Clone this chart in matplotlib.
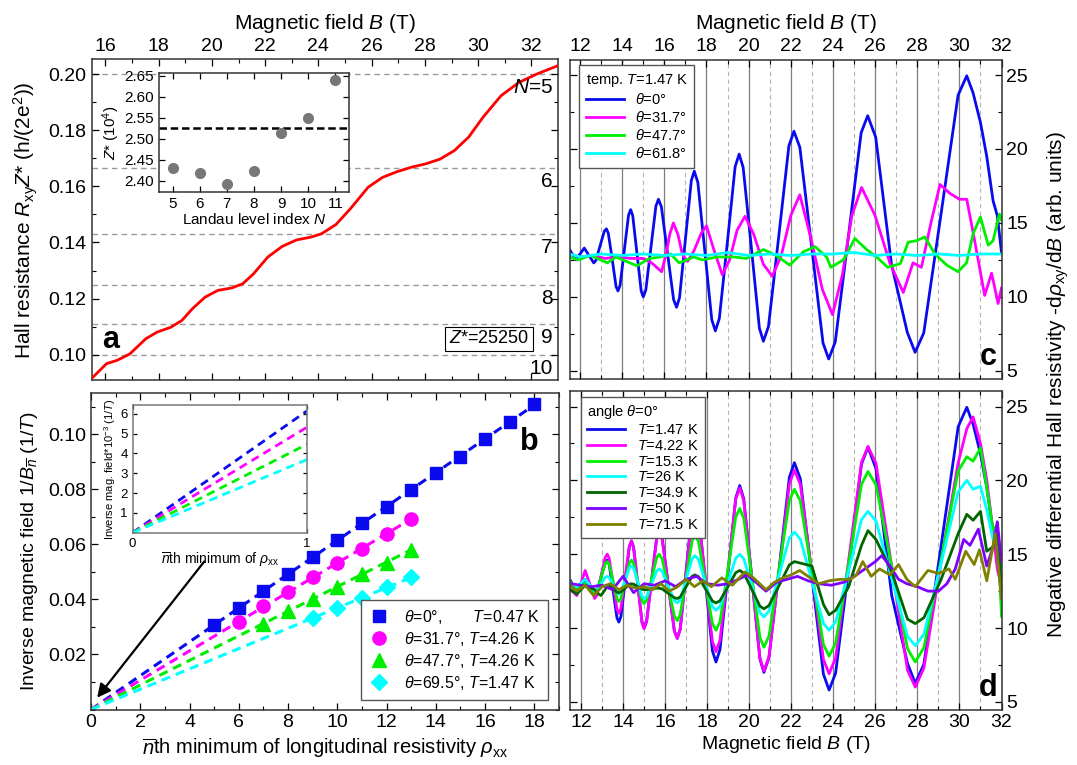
import numpy as np
import matplotlib
matplotlib.use('Agg')
import matplotlib.pyplot as plt
from matplotlib.ticker import MultipleLocator, FixedLocator

plt.rcParams['font.family'] = ['Liberation Sans', 'DejaVu Sans']
plt.rcParams['mathtext.fontset'] = 'custom'
plt.rcParams['mathtext.rm'] = 'Liberation Sans'
plt.rcParams['mathtext.it'] = 'Liberation Sans:italic'
plt.rcParams['mathtext.bf'] = 'Liberation Sans:bold'
plt.rcParams['font.size'] = 12

# ---------------- panel a: Hall resistance ----------------
B_hall = [15.47, 16.04, 16.44, 16.92, 17.52, 17.93, 18.46, 18.87, 19.27, 19.74,
          20.22, 20.75, 21.16, 21.56, 22.1, 22.64, 23.18, 23.72, 24.12, 24.66,
          25.2, 25.87, 26.41, 26.95, 27.49, 28.03, 28.57, 29.1, 29.64, 30.18,
          30.86, 31.53, 32.2, 33.0]
R_hall = [0.0914, 0.0968, 0.098, 0.1003, 0.1057, 0.108, 0.1098, 0.1122, 0.1164, 0.1205,
          0.1229, 0.1238, 0.1253, 0.1288, 0.1348, 0.1386, 0.1409, 0.1419, 0.1431, 0.1464,
          0.152, 0.1597, 0.1632, 0.1652, 0.1668, 0.168, 0.1697, 0.1727, 0.1775, 0.1846,
          0.1923, 0.197, 0.2, 0.203]
N_levels = [5, 6, 7, 8, 9, 10]
Z_star = 25250

# inset a
N_ll = [5, 6, 7, 8, 9, 10, 11]
Z_ll = [2.4295, 2.419, 2.392, 2.423, 2.514, 2.5486, 2.64]

# ---------------- panel b: inverse field vs minimum index ----------------
n_sq = [5, 6, 7, 8, 9, 10, 11, 12, 13, 14, 15, 16, 17, 18]
y_sq = [0.0309, 0.037, 0.0432, 0.0493, 0.0553, 0.0615, 0.0677, 0.0737, 0.0798, 0.086,
        0.0919, 0.0984, 0.1045, 0.1109]
n_ci = [6, 7, 8, 9, 10, 11, 12, 13]
y_ci = [0.0318, 0.0375, 0.0428, 0.048, 0.0533, 0.0584, 0.0639, 0.0692]
n_tr = [7, 8, 9, 10, 11, 12, 13]
y_tr = [0.0312, 0.0359, 0.0403, 0.0447, 0.0492, 0.0534, 0.0579]
n_di = [9, 10, 11, 12, 13]
y_di = [0.0331, 0.0369, 0.0405, 0.0444, 0.0481]

# ---------------- panels c/d: -d rho_xy / dB ----------------
B_d = [11.5, 11.8, 12.2, 12.65,
       12.75, 12.95, 13.15, 13.25,
       13.34, 13.53, 13.71, 13.8,
       13.9, 14.1, 14.3, 14.4,
       14.5, 14.7, 14.9, 15.0,
       15.12, 15.36, 15.6, 15.72,
       15.86, 16.15, 16.44, 16.58,
       16.72, 17.0, 17.28, 17.42,
       17.59, 17.92, 18.25, 18.42,
       18.61, 18.99, 19.36, 19.55,
       19.74, 20.13, 20.51, 20.7,
       20.94, 21.43, 21.91, 22.15,
       22.43, 22.98, 23.53, 23.8,
       24.11, 24.73, 25.34, 25.65,
       26.03, 26.78, 27.53, 27.9,
       28.31, 29.13, 29.94, 30.35,
       30.65, 31.0, 31.3, 31.6, 31.8, 32.0]
d_147 = [13.2, 12.5, 13.3, 12.3,
         12.46, 13.45, 14.44, 14.6,
         14.31, 12.5, 10.69, 10.4,
         10.79, 13.15, 15.52, 15.9,
         15.49, 12.95, 10.41, 10.0,
         10.46, 13.3, 16.14, 16.6,
         16.09, 12.95, 9.81, 9.3,
         9.94, 13.9, 17.86, 18.5,
         17.74, 13.1, 8.46, 7.7,
         8.54, 13.68, 18.81, 19.65,
         18.76, 13.33, 7.89, 7.0,
         7.99, 14.1, 20.21, 21.2,
         20.12, 13.5, 6.88, 5.8,
         6.95, 14.03, 21.1, 22.25,
         20.8, 12.2, 7.6, 6.25,
         7.56, 15.6, 23.64, 24.95,
         23.8, 21.8, 19.5, 16.5, 15.5, 13.0]
d_422 = [12.6, 12.2, 13.9, 12.0,
         12.21, 13.5, 14.79, 15.0,
         14.72, 13.0, 11.28, 11.0,
         11.34, 13.45, 15.56, 15.9,
         15.48, 12.93, 10.38, 9.96,
         10.42, 13.23, 16.04, 16.5,
         16.0, 12.9, 9.8, 9.3,
         9.92, 13.75, 17.58, 18.2,
         17.51, 13.3, 9.09, 8.4,
         9.18, 13.95, 18.72, 19.5,
         18.63, 13.3, 7.97, 7.1,
         8.05, 13.9, 19.75, 20.7,
         19.73, 13.8, 7.87, 6.9,
         7.98, 14.6, 21.22, 22.3,
         21.16, 14.15, 7.14, 6.0,
         7.3, 14.5, 21.2, 23.5,
         24.3, 22.5, 20.0, 16.5, 14.0, 12.8]
d_153 = [13.1, 12.6, 13.0, 12.3,
         12.45, 13.4, 14.35, 14.5,
         14.31, 13.15, 11.99, 11.8,
         12.0, 13.2, 14.4, 14.6,
         14.39, 13.13, 11.86, 11.65,
         11.88, 13.33, 14.77, 15.0,
         14.69, 12.75, 10.82, 10.5,
         10.91, 13.4, 15.89, 16.3,
         15.85, 13.08, 10.3, 9.85,
         10.43, 13.98, 17.52, 18.1,
         17.44, 13.4, 9.36, 8.7,
         9.45, 14.05, 18.65, 19.4,
         18.61, 13.75, 8.89, 8.1,
         8.98, 14.35, 19.73, 20.6,
         19.7, 14.15, 8.6, 7.7,
         8.67, 14.65, 20.63, 21.6,
         21.3, 22.2, 19.5, 16.6, 17.0, 10.8]
d_26 = [13.0, 12.8, 13.3, 12.5,
        12.57, 13.0, 13.43, 13.5,
        13.42, 12.9, 12.38, 12.3,
        12.43, 13.25, 14.07, 14.2,
        14.05, 13.1, 12.15, 12.0,
        12.14, 13.0, 13.86, 14.0,
        13.84, 12.85, 11.86, 11.7,
        11.92, 13.3, 14.68, 14.9,
        14.64, 13.05, 11.46, 11.2,
        11.47, 13.1, 14.73, 15.0,
        14.7, 12.88, 11.05, 10.75,
        11.15, 13.63, 16.1, 16.5,
        16.03, 13.18, 10.32, 9.85,
        10.41, 13.88, 17.34, 17.9,
        17.26, 13.35, 9.44, 8.8,
        9.58, 14.4, 19.22, 20.0,
        19.4, 19.6, 18.0, 16.0, 15.5, 14.0]
d_349 = [12.6, 12.3, 12.9, 12.6,
         12.4, 12.2, 12.6, 12.9,
         12.88, 12.65, 12.42, 12.4,
         12.44, 12.7, 12.96, 13.0,
         12.97, 12.8, 12.63, 12.6,
         12.6, 12.65, 12.7, 12.7,
         12.65, 12.35, 12.05, 12.0,
         12.1, 12.8, 13.5, 13.6,
         13.47, 12.65, 11.83, 11.7,
         11.85, 12.8, 13.75, 13.9,
         13.72, 12.6, 11.48, 11.3,
         11.52, 12.9, 14.28, 14.5,
         14.4, 14.2, 11.6, 10.9,
         11.2, 12.8, 15.6, 16.6,
         16.0, 13.8, 10.6, 10.3,
         10.7, 13.3, 16.4, 17.7,
         17.3, 17.9, 15.2, 15.5, 16.7, 12.5]
B_50 = [11.5, 12.0, 12.5, 13.0, 13.5, 14.0, 14.5, 15.0, 15.5, 16.0,
        16.5, 17.0, 17.5, 18.0, 18.5, 19.0, 19.5, 19.9, 20.4, 20.8,
        21.3, 21.8, 22.3, 22.8, 23.3, 23.9, 24.5, 25.0, 25.5, 26.0,
        26.3, 26.7, 27.1, 27.5, 28.0, 28.5, 29.0, 29.4, 29.8, 30.2,
        30.5, 30.9, 31.3, 31.6, 31.8, 32.0]
d_50 = [13.0, 12.9, 12.8, 12.9, 12.6, 13.5, 12.4, 13.0, 12.9, 13.2,
        12.8, 13.3, 13.5, 13.0, 12.9, 13.0, 13.3, 13.6, 13.0, 12.5,
        13.1, 13.3, 13.5, 13.2, 13.0, 12.9, 13.1, 13.5, 14.0, 14.5,
        14.9, 14.2, 13.3, 13.0, 12.8, 12.5, 12.5, 13.0, 14.0, 16.0,
        15.6, 16.7, 14.2, 15.5, 17.2, 14.5]
B_715 = [11.5, 11.8, 12.2, 12.6, 13.0, 13.4, 13.8, 14.2, 14.6, 15.0,
         15.4, 15.8, 16.2, 16.6, 17.0, 17.4, 17.8, 18.2, 18.7, 19.2,
         19.8, 20.2, 20.8, 21.2, 21.6, 22.0, 22.4, 22.8, 23.3, 23.8,
         24.3, 24.8, 25.1, 25.4, 25.8, 26.2, 26.7, 27.1, 27.5, 27.9,
         28.5, 29.0, 29.5, 29.8, 30.3, 30.7, 30.95, 31.3, 31.7, 32.0]
d_715 = [12.9, 12.5, 12.9, 12.2, 12.8, 13.0, 12.6, 12.9, 12.7, 12.8,
         12.6, 13.0, 12.5, 12.8, 13.3, 12.8, 13.2, 12.8, 13.4, 12.9,
         13.8, 13.4, 12.6, 13.1, 13.4, 13.6, 13.9, 13.5, 13.0, 13.2,
         13.3, 13.3, 13.6, 14.5, 13.5, 14.0, 13.6, 14.3, 13.3, 12.8,
         13.9, 13.7, 14.0, 13.3, 15.2, 14.3, 15.3, 13.2, 16.4, 12.0]

# panel c: angle series at T=1.47 K (theta=0 is the same trace as d_147)
B_317 = [11.5, 12.0, 12.6, 13.2, 13.8, 14.4, 15.0, 15.4, 15.87, 16.1,
         16.25, 16.43, 16.65, 16.85, 17.1, 17.4, 17.75, 18.0, 18.35, 18.75,
         19.1, 19.45, 19.83, 20.25, 20.7, 21.12, 21.55, 22.0, 22.43, 22.95,
         23.5, 23.98, 24.45, 24.9, 25.36, 26.0, 26.7, 27.34, 27.8, 28.2,
         28.65, 29.08, 29.55, 30.0, 30.35, 30.7, 31.2, 31.53, 31.84, 32.0]
c_317 = [12.9, 12.7, 12.8, 12.6, 12.7, 12.6, 12.6, 12.3, 11.7, 13.0,
         14.2, 15.0, 14.2, 12.9, 12.4, 13.1, 14.3, 14.8, 13.2, 11.5,
         12.5, 14.5, 15.45, 14.2, 12.2, 11.4, 12.8, 15.5, 16.9, 14.0,
         10.5, 8.8, 11.5, 15.5, 17.4, 15.5, 12.3, 10.3, 12.3, 12.0,
         15.0, 17.6, 17.0, 16.6, 16.6, 14.0, 10.1, 11.6, 9.55, 10.6]
B_477 = [11.5, 11.9, 12.5, 13.3, 13.7, 14.7, 15.3, 15.8, 16.3, 16.7,
         17.4, 17.8, 18.5, 19.3, 19.9, 20.7, 21.3, 21.95, 22.6, 23.15,
         23.7, 23.9, 24.5, 25.04, 25.6, 26.07, 26.6, 27.2, 27.57, 27.97,
         28.36, 28.84, 29.4, 29.94, 30.34, 30.66, 31.0, 31.37, 31.6, 31.9, 32.0]
c_477 = [12.7, 12.5, 12.8, 12.3, 12.7, 12.1, 12.6, 12.7, 12.9, 12.3,
         12.7, 12.5, 12.7, 12.7, 12.6, 13.2, 12.8, 12.15, 13.05, 13.4,
         12.7, 12.0, 12.5, 13.95, 13.2, 12.7, 12.0, 12.25, 13.7, 13.8,
         14.05, 12.9, 12.15, 11.7, 12.3, 14.3, 15.4, 13.5, 13.8, 15.6, 15.2]
B_618 = [11.5, 12.0, 13.0, 14.0, 15.0, 16.0, 17.0, 18.0, 19.0, 20.0, 21.0,
         22.0, 23.0, 24.0, 25.0, 26.0, 27.0, 28.0, 29.0, 30.0, 31.0, 32.0]
c_618 = [12.9, 12.7, 12.9, 12.8, 12.9, 12.8, 12.9, 12.8, 13.0, 12.8, 12.9,
         12.8, 12.9, 12.9, 13.0, 12.8, 12.9, 12.8, 12.9, 12.8, 12.9, 12.9]

BLUE = '#0a0aee'
MAG = '#ff00ff'
GRN = '#00ee00'
CYN = '#00ffff'
DKG = '#006400'
PUR = '#7f00ff'
OLV = '#808000'
FRAME = '#333333'


def style(ax, top=True, right=True):
    ax.tick_params(which='both', direction='in', top=top, right=right,
                   labelsize=14, colors='black')
    ax.tick_params(which='major', length=5, width=0.9)
    ax.tick_params(which='minor', length=3, width=0.8)
    for s in ax.spines.values():
        s.set_color(FRAME)
        s.set_linewidth(1.1)


fig = plt.figure(figsize=(10.77, 7.65), dpi=100)

# ---------------- a ----------------
ax_a = fig.add_axes([0.085, 0.5033, 0.4327, 0.419])
for N in N_levels:
    ax_a.axhline(1 / N, color='#999999', lw=1, dashes=(4, 3), zorder=1)
ax_a.plot(B_hall, R_hall, color='#ff0000', lw=2, zorder=3)
ax_a.set_xlim(15.48, 32.98)
ax_a.set_ylim(0.091, 0.2052)
ax_a.xaxis.set_major_locator(MultipleLocator(2))
ax_a.xaxis.set_minor_locator(MultipleLocator(1))
ax_a.yaxis.set_major_locator(MultipleLocator(0.02))
ax_a.yaxis.set_minor_locator(MultipleLocator(0.01))
ax_a.yaxis.set_major_formatter(lambda v, p: f'{v:.2f}')
style(ax_a)
ax_a.tick_params(labeltop=True, labelbottom=False)
ax_a.xaxis.set_label_position('top')
ax_a.set_xlabel(r'Magnetic field $B$ (T)', fontsize=15, labelpad=6)
ax_a.set_ylabel(r'Hall resistance $R_{\mathrm{xy}}Z$* (h/(2e$^2$))', fontsize=15, labelpad=6)
for N in N_levels:
    lab = r'$N$=%d' % N if N == 5 else str(N)
    ax_a.text(0.99, 1 / N - 0.0048, lab, transform=ax_a.get_yaxis_transform(),
              ha='right', va='center', fontsize=15)
ax_a.text(30.4, 0.1057, r'$Z$*=%d' % Z_star, ha='center', va='center', fontsize=13,
          bbox=dict(boxstyle='square,pad=0.2', fc='white', ec='black', lw=0.8))
ax_a.text(0.022, 0.125, 'a', transform=ax_a.transAxes, fontsize=22,
          fontweight='bold', ha='left', va='center')

ax_ia = fig.add_axes([0.1476, 0.749, 0.1764, 0.1556])
ax_ia.set_facecolor('white')
ax_ia.axhline(Z_star / 1e4, color='black', lw=1.8, dashes=(3, 1.5))
ax_ia.plot(N_ll, Z_ll, 'o', color='#777777', ms=7)
ax_ia.set_xlim(4.5, 11.5)
ax_ia.set_ylim(2.373, 2.657)
ax_ia.xaxis.set_major_locator(MultipleLocator(1))
ax_ia.yaxis.set_major_locator(MultipleLocator(0.05))
ax_ia.yaxis.set_major_formatter(lambda v, p: f'{v:.2f}')
style(ax_ia)
ax_ia.tick_params(labelsize=11, length=4)
ax_ia.set_xlabel(r'Landau level index $N$', fontsize=11, labelpad=1)
ax_ia.set_ylabel(r'$Z$* (10$^4$)', fontsize=11, labelpad=2)

# ---------------- b ----------------
ax_b = fig.add_axes([0.0845, 0.0725, 0.4345, 0.4137])
series_b = [(n_sq, y_sq, 's', BLUE, 8.5, r'$\theta$=0°,       $T$=0.47 K'),
            (n_ci, y_ci, 'o', MAG, 9.5, r'$\theta$=31.7°, $T$=4.26 K'),
            (n_tr, y_tr, '^', GRN, 9.5, r'$\theta$=47.7°, $T$=4.26 K'),
            (n_di, y_di, 'D', CYN, 8, r'$\theta$=69.5°, $T$=1.47 K')]
slopes = []
for n, y, m, c, ms, lab in series_b:
    n = np.array(n, float)
    y = np.array(y)
    k = np.sum(n * y) / np.sum(n * n)
    slopes.append(k)
    ax_b.plot([0, n[-1]], [0, k * n[-1]], color=c, lw=2.2, dashes=(3, 2), zorder=2)
    ax_b.plot(n, y, m, color=c, ms=ms, ls='none', label=lab, zorder=3)
ax_b.set_xlim(0, 19)
ax_b.set_ylim(0, 0.115)
ax_b.xaxis.set_major_locator(MultipleLocator(2))
ax_b.xaxis.set_minor_locator(MultipleLocator(1))
ax_b.yaxis.set_major_locator(FixedLocator([0.02, 0.04, 0.06, 0.08, 0.10]))
ax_b.yaxis.set_minor_locator(MultipleLocator(0.01))
ax_b.yaxis.set_major_formatter(lambda v, p: f'{v:.2f}')
style(ax_b)
ax_b.set_xlabel(r'$\overline{n}$th minimum of longitudinal resistivity $\rho_{\mathrm{xx}}$',
                fontsize=14.5, labelpad=3)
ax_b.set_ylabel(r'Inverse magnetic field 1/$B_{\overline{n}}$ (1/$T$)', fontsize=14, labelpad=6)
leg = ax_b.legend(loc='lower right', bbox_to_anchor=(0.977, 0.03), fontsize=11.5,
                  frameon=True, fancybox=False, edgecolor='#555555', numpoints=1,
                  handlelength=1.2, handletextpad=1.0, borderpad=0.5, labelspacing=0.25,
                  framealpha=1, borderaxespad=0)
leg.get_frame().set_linewidth(1.0)
ax_b.text(0.937, 0.845, 'b', transform=ax_b.transAxes, fontsize=22,
          fontweight='bold', ha='center', va='center')
ax_b.annotate('', xy=(0.25, 0.0043), xytext=(4.6, 0.0538),
              arrowprops=dict(arrowstyle='-|>', color='black', lw=1.6,
                              mutation_scale=20, shrinkA=0, shrinkB=0))

ax_ib = fig.add_axes([0.1232, 0.3037, 0.1618, 0.1669])
ax_ib.set_facecolor('white')
for (n, y, m, c, ms, lab), k in zip(series_b, slopes):
    ax_ib.plot([0, 1], [0, k * 1000], color=c, lw=2, dashes=(3, 2))
ax_ib.set_xlim(0, 1)
ax_ib.set_ylim(0, 6.45)
ax_ib.xaxis.set_major_locator(FixedLocator([0, 1]))
ax_ib.yaxis.set_major_locator(FixedLocator([1, 2, 3, 4, 5, 6]))
style(ax_ib)
for s in ax_ib.spines.values():
    s.set_color('#777777')
ax_ib.tick_params(labelsize=9.5, length=3)
ax_ib.set_xlabel(r'$\overline{n}$th minimum of $\rho_{\mathrm{xx}}$', fontsize=10, labelpad=1)
ax_ib.set_ylabel(r'Inverse mag. field*10$^{-3}$ (1/$T$)', fontsize=8, labelpad=2)


# ---------------- c & d ----------------
def field_grid(ax):
    for b in range(12, 33, 2):
        ax.axvline(b, color='#7f7f7f', lw=0.9, zorder=0)
    for b in range(13, 32, 2):
        ax.axvline(b, color='#b5b5b5', lw=0.8, dashes=(4, 3), zorder=0)
    ax.set_xlim(11.5, 32)
    ax.set_ylim(4.48, 26.05)
    ax.xaxis.set_major_locator(MultipleLocator(2))
    ax.xaxis.set_minor_locator(MultipleLocator(1))
    ax.yaxis.set_major_locator(MultipleLocator(5))
    ax.yaxis.set_minor_locator(MultipleLocator(2.5))
    style(ax)


ax_c = fig.add_axes([0.5288, 0.5052, 0.4011, 0.417])
field_grid(ax_c)
ax_c.plot(B_d, d_147, color=BLUE, lw=2, label=r'$\theta$=0°')
ax_c.plot(B_317, c_317, color=MAG, lw=2, label=r'$\theta$=31.7°')
ax_c.plot(B_477, c_477, color=GRN, lw=2, label=r'$\theta$=47.7°')
ax_c.plot(B_618, c_618, color=CYN, lw=2, label=r'$\theta$=61.8°')
ax_c.tick_params(labeltop=True, labelbottom=False, labelright=True, labelleft=False)
ax_c.xaxis.set_label_position('top')
ax_c.set_xlabel(r'Magnetic field $B$ (T)', fontsize=15, labelpad=6)
lc = ax_c.legend(loc='upper left', bbox_to_anchor=(0.022, 0.983), borderaxespad=0,
                 title=r'temp. $T$=1.47 K', title_fontsize=10.5, fontsize=10.5,
                 alignment='left', frameon=True, fancybox=False, framealpha=1,
                 edgecolor='#555555', handlelength=2.6, handletextpad=0.8,
                 labelspacing=0.22, borderpad=0.45)
lc.get_frame().set_linewidth(1.0)
ax_c.text(0.99, 0.02, 'c', transform=ax_c.transAxes, fontsize=22,
          fontweight='bold', ha='right', va='bottom')

ax_d = fig.add_axes([0.5297, 0.0725, 0.4002, 0.4163])
field_grid(ax_d)
for B, v, c, lab in [(B_d, d_147, BLUE, '1.47'), (B_d, d_422, MAG, '4.22'),
                     (B_d, d_153, GRN, '15.3'), (B_d, d_26, CYN, '26'),
                     (B_d, d_349, DKG, '34.9'), (B_50, d_50, PUR, '50'),
                     (B_715, d_715, OLV, '71.5')]:
    ax_d.plot(B, v, color=c, lw=2, label=r'$T$=%s K' % lab)
ax_d.tick_params(labelright=True, labelleft=False)
ax_d.set_xlabel(r'Magnetic field $B$ (T)', fontsize=14, labelpad=2)
ld = ax_d.legend(loc='upper left', bbox_to_anchor=(0.024, 0.982), borderaxespad=0,
                 title=r'angle $\theta$=0°', title_fontsize=10.5, fontsize=10.5,
                 alignment='left', frameon=True, fancybox=False, framealpha=1,
                 edgecolor='#555555', handlelength=2.6, handletextpad=0.8,
                 labelspacing=0.12, borderpad=0.45)
ld.get_frame().set_linewidth(1.0)
ax_d.text(0.99, 0.02, 'd', transform=ax_d.transAxes, fontsize=22,
          fontweight='bold', ha='right', va='bottom')

fig.text(0.983, 0.497,
         r'Negative differential Hall resistivity -d$\rho_{\mathrm{xy}}$/d$B$ (arb. units)',
         rotation=90, ha='center', va='center', fontsize=15)

fig.savefig('out.png', dpi=100)
